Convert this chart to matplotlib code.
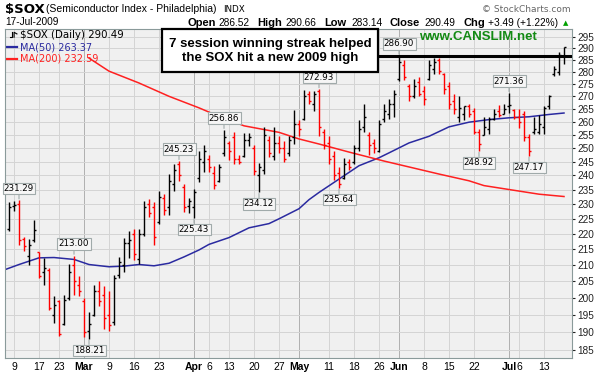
import matplotlib.pyplot as plt
from matplotlib.patches import Rectangle
from matplotlib.ticker import FixedLocator, NullLocator

W, H = 597, 376

# trading-day index: 0 = 2 Feb 2009
first_day = 4
prev_close = 220.5
opens = [221.5, 229.5, 230.0, 218.5, 213.0, 218.0, 214.0, 208.0, 208.5, 195.0,
         199.0, 192.5, 200.0, 210.0, 204.0, 199.0, 190.5, 195.0, 202.0, 201.0,
         195.0, 193.0, 207.0, 210.0, 217.0, 220.0, 212.0, 220.0, 230.0, 229.0,
         224.0, 232.0, 229.0, 237.0, 244.0, 236.0, 229.5, 229.0, 239.0, 245.0,
         246.0, 241.0, 238.0, 248.0, 252.0, 254.0, 246.0, 247.0, 253.0, 250.0,
         240.0, 242.0, 253.0, 247.0, 252.0, 250.0, 248.0, 254.0, 259.0, 261.0,
         271.0, 267.0, 272.0, 256.0, 252.0, 247.0, 241.0, 239.0, 245.0, 245.0,
         250.0, 258.0, 255.0, 252.0, 249.0, 261.0, 263.0, 267.0, 277.0, 283.0,
         274.0, 270.0, 276.0, 272.0, 277.0, 281.0, 285.0, 279.0, 274.0, 268.0,
         262.0, 263.0, 266.0, 264.0, 256.0, 255.0, 257.0, 261.0, 264.0, 263.0,
         266.0, 264.5, 262.0, 263.0, 254.0, 256.0, 256.0, 258.0, 266.0, 279.0,
         280.0, 286.52]
highs = [230.6, 231.0, 231.29, 219.0, 218.5, 224.5, 214.2, 212.1, 209.0, 200.5,
         199.4, 200.9, 210.5, 213.0, 206.5, 199.9, 196.0, 204.0, 205.0, 203.5,
         202.0, 207.0, 212.6, 218.6, 220.8, 221.7, 221.7, 231.2, 231.7, 230.6,
         234.6, 233.5, 240.4, 244.0, 245.23, 237.0, 232.0, 235.2, 248.9, 251.1,
         247.4, 243.4, 244.0, 256.86, 252.6, 256.2, 247.5, 255.7, 255.7, 251.1,
         244.6, 258.0, 254.4, 258.0, 254.4, 252.6, 254.4, 264.7, 260.8, 272.6,
         272.0, 272.0, 272.93, 257.0, 254.5, 249.0, 243.0, 246.2, 246.0, 251.0,
         260.8, 267.0, 256.0, 253.5, 260.8, 267.0, 268.9, 272.6, 286.9, 284.8,
         275.0, 277.0, 278.0, 274.0, 285.0, 285.7, 286.0, 279.5, 276.0, 271.0,
         270.0, 266.3, 267.0, 265.5, 257.0, 262.0, 262.0, 265.0, 266.6, 267.0,
         271.36, 264.8, 264.8, 264.2, 255.2, 262.0, 262.7, 266.3, 270.6, 282.3,
         288.5, 290.66]
lows = [220.8, 227.8, 216.5, 214.4, 210.0, 217.4, 205.9, 204.0, 196.5, 192.7,
        189.0, 192.2, 199.4, 201.0, 200.5, 188.8, 188.21, 194.6, 197.5, 191.0,
        190.5, 192.2, 206.0, 208.0, 212.1, 211.6, 210.5, 219.3, 225.7, 216.5,
        223.2, 226.2, 226.2, 234.6, 238.2, 227.2, 227.0, 225.43, 237.6, 241.1,
        241.3, 235.2, 237.6, 247.0, 245.4, 244.0, 244.0, 246.7, 250.9, 240.0,
        234.12, 240.5, 246.7, 245.4, 248.3, 244.8, 247.0, 251.4, 254.6, 260.8,
        267.1, 264.0, 254.6, 249.5, 244.0, 238.5, 235.64, 238.7, 241.9, 244.0,
        249.0, 256.0, 247.5, 248.3, 248.5, 260.0, 261.0, 262.0, 276.3, 276.8,
        268.0, 269.5, 270.0, 266.5, 276.8, 279.0, 279.0, 271.0, 265.0, 263.0,
        260.0, 260.5, 262.0, 255.2, 248.92, 255.0, 255.2, 260.8, 262.0, 263.0,
        263.2, 261.0, 257.6, 252.5, 247.17, 255.2, 255.2, 255.2, 265.0, 278.2,
        278.8, 283.14]
closes = [229.0, 229.8, 218.0, 216.0, 216.5, 221.2, 206.5, 209.0, 197.0, 198.0,
          189.5, 199.4, 208.0, 205.0, 202.0, 190.0, 192.5, 202.0, 199.0, 194.0,
          192.0, 206.0, 211.0, 217.0, 218.0, 213.5, 220.0, 229.0, 227.0, 219.0,
          232.5, 228.0, 238.0, 242.0, 240.0, 229.0, 231.0, 234.0, 246.0, 249.0,
          243.0, 236.5, 243.0, 254.0, 249.0, 246.0, 245.0, 253.0, 254.0, 241.5,
          243.0, 255.0, 248.0, 252.0, 250.0, 246.0, 253.0, 259.0, 257.0, 270.0,
          268.0, 271.0, 258.0, 251.0, 246.0, 240.0, 237.0, 244.0, 243.0, 250.0,
          257.0, 262.0, 251.0, 250.0, 259.0, 264.0, 267.0, 271.0, 284.0, 278.0,
          270.0, 274.0, 271.0, 269.0, 283.0, 284.0, 280.5, 273.0, 267.0, 265.0,
          265.5, 266.0, 263.0, 256.0, 251.5, 258.0, 261.0, 263.0, 262.5, 265.0,
          266.5, 262.0, 260.0, 254.0, 249.0, 257.0, 259.0, 265.5, 270.0, 281.0,
          287.0, 290.49]

ma50_days = [3, 6, 10, 13, 17, 20, 24, 27, 30, 33, 36, 39, 42, 44, 48, 52, 56, 58,
             62, 64, 66, 70, 74, 78, 80, 84, 88, 92, 96, 100, 104, 108, 112, 115]
ma50 = [208.5, 210.2, 212.3, 212.4, 211.8, 210.2, 209.5, 209.7, 210.2, 209.8,
        210.6, 212.6, 214.8, 216.6, 218.8, 222.0, 223.4, 225.0, 228.4, 231.5,
        234.0, 238.7, 243.5, 246.4, 248.2, 251.9, 254.4, 258.0, 259.8, 260.8,
        261.5, 261.9, 262.8, 263.37]
ma200_days = [20, 24, 30, 36, 42, 45, 51, 58, 62, 66, 72, 79, 86, 90, 96, 99, 103,
              110, 115]
ma200 = [285.8, 280.3, 275.4, 270.0, 265.4, 262.9, 258.4, 255.9, 253.4, 251.5,
         248.5, 245.2, 242.2, 240.5, 238.1, 236.4, 235.3, 233.4, 232.59]

tick_days = [5, 10, 14, 19, 24, 29, 34, 41, 44, 48, 53, 58, 62, 68, 73, 78, 82, 87,
             92, 97, 104, 106, 111]
tick_labels = ['9', '17', '23', 'Mar', '9', '16', '23', 'Apr', '6', '13', '20', '27',
               'May', '11', '18', '26', 'Jun', '8', '15', '22', 'Jul', '6', '13']
month_days = [19, 41, 62, 82, 104]
price_ticks = list(range(185, 300, 5))

label_highs = [6, 17, 38, 47, 66, 82, 104]
label_lows = [20, 41, 54, 70, 98, 108]
prior_high = 286.90

fig = plt.figure(figsize=(W / 100, H / 100), dpi=100)
ax = fig.add_axes([5 / W, 1 - 358 / H, 567 / W, 329 / H])
ax.set_facecolor('#f0f0f0')
ax.set_yscale('log')
ax.set_ylim(182.9, 298.45)
ax.set_xlim(3.2, 116.6)

ax.yaxis.set_major_locator(FixedLocator(price_ticks))
ax.yaxis.set_minor_locator(NullLocator())
ax.set_yticklabels([str(p) for p in price_ticks])
ax.yaxis.tick_right()
ax.tick_params(axis='y', length=2, pad=2, labelsize=7.2, colors='#222222')
ax.set_xticks(tick_days)
ax.set_xticklabels(tick_labels)
ax.tick_params(axis='x', length=0, pad=3, labelsize=7.5)
for lab in ax.get_xticklabels():
    lab.set_family('Liberation Sans')
    if not lab.get_text().isdigit():
        lab.set_fontweight('bold')
for lab in ax.get_yticklabels():
    lab.set_family('Liberation Sans')
for s in ax.spines.values():
    s.set_color('#8a9a9a')
    s.set_linewidth(0.8)

ax.grid(axis='y', color='#d4d4d4', lw=0.7)
for d in tick_days:
    ax.axvline(d, color='#b0b0b0' if d in month_days else '#d4d4d4', lw=0.7, zorder=0.5)
ax.set_axisbelow(True)

days = list(range(first_day, first_day + len(closes)))
prev = [prev_close] + closes[:-1]
colors = ['black' if c >= p else '#ff0000' for c, p in zip(closes, prev)]
ax.vlines(days, lows, highs, colors=colors, lw=1.0, zorder=3)
ax.hlines(opens, [d - 0.45 for d in days], days, colors=colors, lw=1.0, zorder=3)
ax.hlines(closes, days, [d + 0.45 for d in days], colors=colors, lw=1.0, zorder=3)

ax.plot(ma50_days, ma50, color='#2a2aa0', lw=1.1, zorder=2)
ax.plot(ma200_days, ma200, color='#ff2020', lw=1.1, zorder=2)

box_style = dict(boxstyle='square,pad=0.15', fc='#f6f6f6', ec='#a0aaaa', lw=0.8)
arrow_style = dict(arrowstyle='-', color='#a0aaaa', lw=0.8, shrinkA=0, shrinkB=1)
for d in label_highs:
    v = highs[d - first_day]
    ax.annotate(f'{v:.2f}', xy=(d, v), xytext=(0, 8.5), textcoords='offset points',
                ha='center', va='center', fontsize=6.3, bbox=box_style,
                arrowprops=arrow_style, zorder=4)
for d in label_lows:
    v = lows[d - first_day]
    ax.annotate(f'{v:.2f}', xy=(d, v), xytext=(0, -8.5), textcoords='offset points',
                ha='center', va='center', fontsize=6.3, bbox=box_style,
                arrowprops=arrow_style, zorder=4)

# prior high line and comment box
ax.axhline(prior_high, xmin=0.65, xmax=1, color='black', lw=2.2, zorder=5)
ax.add_patch(Rectangle((0.277, 0.869), 0.381, 0.13, transform=ax.transAxes,
                       fc='white', ec='black', lw=1.6, zorder=6, clip_on=False))
ax.text(0.4675, 0.934, '7 session winning streak helped\nthe SOX hit a new 2009 high',
        transform=ax.transAxes, ha='center', va='center', fontsize=9.5,
        fontweight='bold', family='Liberation Sans', linespacing=1.25, zorder=7)
ax.text(0.835, 0.975, 'www.CANSLIM.net', transform=ax.transAxes, ha='center',
        va='center', fontsize=9.5, fontweight='bold', family='Liberation Sans',
        color='#138a13', zorder=7)

# legend
ax.text(0.026, 0.982, f'$SOX (Daily) {closes[-1]:.2f}', transform=ax.transAxes,
        va='center', fontsize=7.4, color='black', zorder=7)
ax.plot([0.008, 0.013, 0.013], [0.975, 0.975, 0.99], transform=ax.transAxes,
        color='black', lw=0.8, zorder=7)
ax.plot([0.016, 0.016, 0.021], [0.975, 0.99, 0.985], transform=ax.transAxes,
        color='black', lw=0.8, zorder=7)
ax.plot([0.003, 0.022], [0.945, 0.945], transform=ax.transAxes, color='#2a2aa0', lw=1.6)
ax.text(0.026, 0.945, f'MA(50) {ma50[-1]:.2f}', transform=ax.transAxes, va='center',
        fontsize=7, color='#2a2aa0', zorder=7)
ax.plot([0.003, 0.022], [0.909, 0.909], transform=ax.transAxes, color='#ff2020', lw=1.6)
ax.text(0.026, 0.909, f'MA(200) {ma200[-1]:.2f}', transform=ax.transAxes, va='center',
        fontsize=7, color='#ff2020', zorder=7)


def px(x, y):
    return x / W, 1 - y / H


# header
fig.text(*px(5, 9), '$SOX', fontsize=9.5, fontweight='bold', va='center')
fig.text(*px(46, 9), '(Semiconductor Index - Philadelphia)', fontsize=7.5,
         family='Liberation Sans', va='center')
fig.text(*px(223, 9.5), 'INDX', fontsize=6.3, va='center')
fig.text(*px(5, 22), '17-Jul-2009', fontsize=7.3, family='Liberation Sans', va='center')
fig.text(*px(482, 9), '\u00a9 StockCharts.com', fontsize=6.5, color='#666666', va='center')

last_o, last_h, last_l, last_c = opens[-1], highs[-1], lows[-1], closes[-1]
chg = last_c - closes[-2]
pieces = [(187, 'Open', True), (218, f'{last_o:.2f}', False),
          (257, 'High', True), (285, f'{last_h:.2f}', False),
          (324, 'Low', True), (351, f'{last_l:.2f}', False),
          (389, 'Close', True), (424, f'{last_c:.2f}', False),
          (464, 'Chg', True), (488, f'{chg:+.2f} ({chg / closes[-2] * 100:+.2f}%)', False)]
for x, t, bold in pieces:
    fig.text(*px(x, 22.5), t, fontsize=8 if bold else 7.3, family='Liberation Sans',
             fontweight='bold' if bold else 'normal', va='center')
fig.text(*px(563, 23), '\u25b2', fontsize=5, color='#00a000', va='center')

fig.savefig('out.png', dpi=100)
